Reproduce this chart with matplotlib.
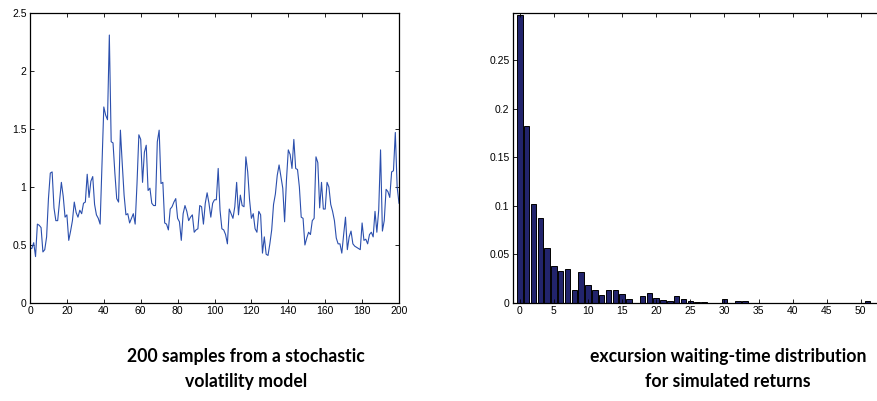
import matplotlib
matplotlib.use("Agg")
import matplotlib.pyplot as plt
import numpy as np

# ---- data ----
volatility = [
    0.47, 0.47, 0.52, 0.40, 0.68, 0.67, 0.65, 0.44, 0.46, 0.57,
    0.90, 1.12, 1.13, 0.82, 0.71, 0.71, 0.88, 1.04, 0.92, 0.74,
    0.76, 0.54, 0.62, 0.71, 0.87, 0.78, 0.74, 0.80, 0.77, 0.86,
    0.87, 1.11, 0.91, 1.05, 1.09, 0.85, 0.76, 0.73, 0.68, 1.20,
    1.69, 1.62, 1.58, 2.31, 1.39, 1.38, 1.12, 0.90, 0.87, 1.49,
    1.20, 0.93, 0.76, 0.77, 0.69, 0.73, 0.77, 0.68, 1.03, 1.45,
    1.41, 1.04, 1.30, 1.36, 0.97, 0.99, 0.86, 0.84, 0.84, 1.39,
    1.49, 1.03, 1.04, 0.69, 0.68, 0.63, 0.81, 0.83, 0.87, 0.90,
    0.73, 0.70, 0.54, 0.77, 0.84, 0.79, 0.71, 0.74, 0.76, 0.61,
    0.63, 0.64, 0.84, 0.83, 0.68, 0.86, 0.95, 0.86, 0.74, 0.86,
    0.89, 0.89, 1.16, 0.80, 0.64, 0.63, 0.59, 0.51, 0.81, 0.77,
    0.73, 0.83, 1.04, 0.76, 0.93, 0.84, 0.83, 1.26, 1.13, 0.89,
    0.73, 0.77, 0.64, 0.61, 0.79, 0.76, 0.43, 0.57, 0.42, 0.41,
    0.51, 0.63, 0.85, 0.94, 1.10, 1.19, 1.09, 0.99, 0.70, 1.06,
    1.32, 1.28, 1.16, 1.41, 1.16, 1.15, 1.00, 0.74, 0.73, 0.50,
    0.56, 0.61, 0.59, 0.71, 0.73, 1.26, 1.21, 0.82, 1.04, 0.81,
    0.81, 1.04, 1.00, 0.85, 0.79, 0.71, 0.56, 0.51, 0.51, 0.43,
    0.59, 0.74, 0.46, 0.57, 0.62, 0.51, 0.49, 0.48, 0.47, 0.46,
    0.69, 0.54, 0.55, 0.51, 0.59, 0.61, 0.57, 0.79, 0.61, 0.80,
    1.32, 0.62, 0.71, 0.98, 0.96, 0.91, 1.13, 1.14, 1.47, 1.00,
    0.86,
]
sample_index = list(range(len(volatility)))

waiting_time = list(range(0, 53))
waiting_prob = [
    0.296, 0.182, 0.1024, 0.0873, 0.0562, 0.0384, 0.0332, 0.0349, 0.013, 0.0315,
    0.0185, 0.013, 0.0086, 0.013, 0.013, 0.0092, 0.004, 0.0, 0.0075, 0.0103,
    0.005, 0.0034, 0.002, 0.0075, 0.004, 0.002, 0.0015, 0.0015, 0.0, 0.0,
    0.004, 0.0, 0.0017, 0.0017, 0.0, 0.0, 0.0, 0.0, 0.0, 0.0,
    0.0, 0.0, 0.0, 0.0, 0.0, 0.0, 0.0, 0.0, 0.0, 0.0,
    0.0, 0.0017, 0.0,
]

left_xticks = [0, 20, 40, 60, 80, 100, 120, 140, 160, 180, 200]
left_yticks = [0, 0.5, 1, 1.5, 2, 2.5]
left_yticklabels = ["0", "0.5", "1", "1.5", "2", "2.5"]
right_xticks = [0, 5, 10, 15, 20, 25, 30, 35, 40, 45, 50]
right_yticks = [0, 0.05, 0.1, 0.15, 0.2, 0.25]
right_yticklabels = ["0", "0.05", "0.1", "0.15", "0.2", "0.25"]

left_caption = "200 samples from a stochastic\nvolatility model"
right_caption = "excursion waiting-time distribution\nfor simulated returns"

# ---- figure ----
W, H = 877, 401
fig = plt.figure(figsize=(W / 100, H / 100), dpi=100)

tick_family = ["Liberation Sans", "DejaVu Sans"]


def style(ax):
    for s in ax.spines.values():
        s.set_linewidth(0.9)
        s.set_color("black")
    ax.tick_params(direction="in", length=3, width=0.6, top=True, right=True,
                   pad=2.5, labelsize=7.5, colors="black")
    for lab in ax.get_xticklabels() + ax.get_yticklabels():
        lab.set_fontfamily(tick_family)


# left axes: px 30..399 x, 13..303 y
axL = fig.add_axes([30 / W, (H - 303) / H, 369 / W, 290 / H])
axL.plot(sample_index, volatility, color="#2b4fad", lw=0.8)
axL.set_xlim(0, 200)
axL.set_ylim(0, 2.5)
axL.set_xticks(left_xticks)
axL.set_yticks(left_yticks)
axL.set_yticklabels(left_yticklabels)
style(axL)

# right axes: x=-1 at px 513, 6.82 px per unit
x0 = 513
pxu = 6.82
axR = fig.add_axes([x0 / W, (H - 303) / H, 54 * pxu / W, 290 / H])
axR.bar(waiting_time, waiting_prob, width=0.8, color="#22246c",
        edgecolor="black", linewidth=0.7)
axR.set_xlim(-1, 53)
axR.set_ylim(0, 0.2985)
axR.set_xticks(right_xticks)
axR.set_yticks(right_yticks)
axR.set_yticklabels(right_yticklabels)
style(axR)

cap_font = ["Lato", "DejaVu Sans"]
fig.text(246 / W, 1 - 369 / H, left_caption, ha="center", va="center",
         fontsize=12.7, fontweight="bold", family=cap_font, linespacing=1.6)
fig.text(728 / W, 1 - 369 / H, right_caption, ha="center", va="center",
         fontsize=12.7, fontweight="bold", family=cap_font, linespacing=1.6)

fig.savefig("out.png", dpi=100)
